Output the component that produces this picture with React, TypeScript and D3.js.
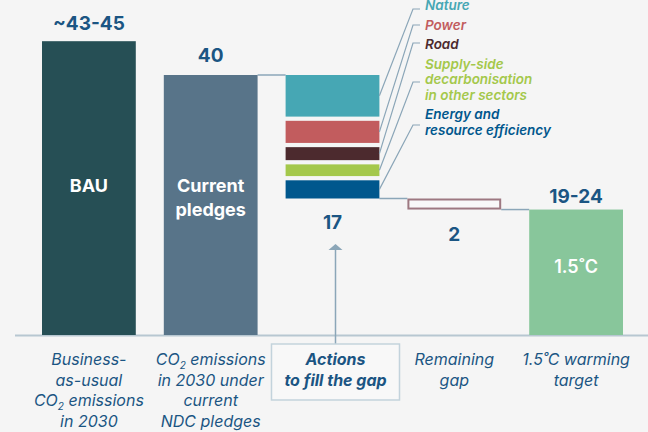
import React from 'react';
import * as d3 from 'd3';

// categories along the bottom
const categories = ['bau', 'current', 'actions', 'gap', 'target'];
const valueLabels = ['~43-45', '40', '17', '2', '19-24'];
const bauValue = 45.2;
const currentValue = 40;
const targetValue = 19.3;

// actions to fill the gap, stacked from the top down
const actionNames = ['Nature', 'Power', 'Road', 'Supply-side decarbonisation in other sectors', 'Energy and resource efficiency'];
const actionValues = [6.4, 3.4, 2.0, 1.8, 2.8];
const actionColors = ['#46a7b4', '#c25c5e', '#4c2a2e', '#a4c84b', '#00578d'];
const legendLines = [
  ['Nature'],
  ['Power'],
  ['Road'],
  ['Supply-side', 'decarbonisation', 'in other sectors'],
  ['Energy and', 'resource efficiency'],
];
const legendTicks = [9, 25, 43, 82, 125];

const bottomLabels = [
  ['Business-', 'as-usual', 'CO2 emissions', 'in 2030'],
  ['CO2 emissions', 'in 2030 under', 'current', 'NDC pledges'],
  ['Actions', 'to fill the gap'],
  ['Remaining', 'gap'],
  ['1.5˚C warming', 'target'],
];

const W = 648;
const H = 432;
const base = 335;
const blue = '#1b5583';
const connector = '#8ba6b8';

function Line({ text }: { text: string }) {
  if (!text.startsWith('CO2')) return <>{text}</>;
  return (
    <>
      CO<tspan fontSize="10" dy="4">2</tspan>
      <tspan dy="-4">{text.slice(3)}</tspan>
    </>
  );
}

export default function App() {
  const x = d3.scaleBand().domain(categories).range([42, 623]).paddingInner(0.23);
  const y = d3.scaleLinear().domain([0, currentValue]).range([base, 75]);
  const bw = x.bandwidth();
  const cx = (c: string) => (x(c) as number) + bw / 2;

  // stacked segments with a small gap between them
  const segGap = 0.65;
  let top = currentValue;
  const segs = actionValues.map((v, i) => {
    const s = { name: actionNames[i], color: actionColors[i], y0: top, y1: top - v };
    top = top - v - segGap;
    return s;
  });
  const actionsBottom = segs[segs.length - 1].y1;

  const solidBars = [
    { c: 'bau', v: bauValue, color: '#264f55' },
    { c: 'current', v: currentValue, color: '#587489' },
    { c: 'target', v: targetValue, color: '#88c69b' },
  ];

  const font = 'Inter, "Noto Sans", sans-serif';
  const legX = 425;
  const arrowX = cx('actions') + 3;

  return (
    <div style={{ position: 'fixed', left: 0, top: 0 }}>
      <svg width={W} height={H} style={{ display: 'block', fontFamily: font }}>
        <rect width={W} height={H} fill="#f5f5f5" />

        {/* baseline */}
        <line x1={15} x2={W} y1={base + 0.5} y2={base + 0.5} stroke="#b7c7d1" strokeWidth={2} />

        {/* connectors */}
        <g stroke={connector} strokeWidth={1.5}>
          <line x1={(x('current') as number) + bw} x2={x('actions') as number} y1={y(currentValue)} y2={y(currentValue)} />
          <line x1={(x('actions') as number) + bw} x2={x('gap') as number} y1={y(actionsBottom)} y2={y(actionsBottom)} />
          <line x1={(x('gap') as number) + bw} x2={x('target') as number} y1={y(targetValue)} y2={y(targetValue)} />
        </g>

        {solidBars.map((b) => (
          <rect key={b.c} x={x(b.c)} y={y(b.v)} width={bw} height={base - y(b.v)} fill={b.color} />
        ))}

        {segs.map((s) => (
          <rect key={s.name} x={x('actions')} y={y(s.y0)} width={bw} height={y(s.y1) - y(s.y0)} fill={s.color} />
        ))}

        {/* remaining gap outline */}
        <rect
          x={(x('gap') as number) + 1}
          y={y(actionsBottom) + 1}
          width={bw - 2}
          height={y(targetValue) - y(actionsBottom) - 2}
          fill="#f8f8f8"
          stroke="#9d7881"
          strokeWidth={2}
        />

        {/* leader lines */}
        <g stroke={connector} strokeWidth={1.2} fill="none">
          {segs.map((s, i) => (
            <polyline
              key={s.name}
              points={`${(x('actions') as number) + bw},${(y(s.y0) + y(s.y1)) / 2} ${legX - 12},${legendTicks[i]} ${legX - 5},${legendTicks[i]}`}
            />
          ))}
        </g>

        {/* legend */}
        {(() => {
          let bl = 10;
          return legendLines.map((lines, i) => {
            const start = i === 0 ? bl : bl + 19.5;
            bl = start + (lines.length - 1) * 15.5;
            return (
              <text key={i} x={legX} y={start} fill={actionColors[i]} fontSize={13.5} fontWeight={600} fontStyle="italic">
                {lines.map((l, j) => (
                  <tspan key={j} x={legX} y={start + j * 15.5}>{l}</tspan>
                ))}
              </text>
            );
          });
        })()}

        {/* value labels */}
        <g fill={blue} fontSize={19} fontWeight={700} textAnchor="middle">
          <text x={cx('bau')} y={y(bauValue) - 11}>{valueLabels[0]}</text>
          <text x={cx('current')} y={y(currentValue) - 13}>{valueLabels[1]}</text>
          <text x={cx('actions')} y={y(actionsBottom) + 30}>{valueLabels[2]}</text>
          <text x={cx('gap')} y={y(targetValue) + 31}>{valueLabels[3]}</text>
          <text x={cx('target')} y={y(targetValue) - 7}>{valueLabels[4]}</text>
        </g>

        {/* labels in bars */}
        <g fill="#ffffff" fontSize={18} fontWeight={700} textAnchor="middle">
          <text x={cx('bau')} y={192}>BAU</text>
          <text x={cx('current')} y={192}>Current</text>
          <text x={cx('current')} y={216}>pledges</text>
          <text x={cx('target')} y={273} fontWeight={600}>1.5˚C</text>
        </g>

        {/* arrow up to the stack */}
        <line x1={arrowX} x2={arrowX} y1={249} y2={344} stroke={connector} strokeWidth={1.5} />
        <polygon points={`${arrowX},244 ${arrowX - 7},250 ${arrowX + 7},250`} fill={connector} />

        {/* actions box */}
        <rect x={arrowX - 64} y={344} width={128} height={56} fill="#f8f8f8" stroke="#c3d3dc" strokeWidth={1.5} />

        {/* bottom labels */}
        {bottomLabels.map((lines, i) => {
          const c = categories[i];
          const isActions = c === 'actions';
          const xc = isActions ? arrowX : cx(c);
          return (
            <text
              key={c}
              textAnchor="middle"
              fill={blue}
              fontSize={16}
              fontStyle="italic"
              fontWeight={isActions ? 700 : 400}
            >
              {lines.map((l, j) => (
                <tspan key={j} x={xc} y={365 + j * 20.5}>
                  <Line text={l} />
                </tspan>
              ))}
            </text>
          );
        })}
      </svg>
    </div>
  );
}
